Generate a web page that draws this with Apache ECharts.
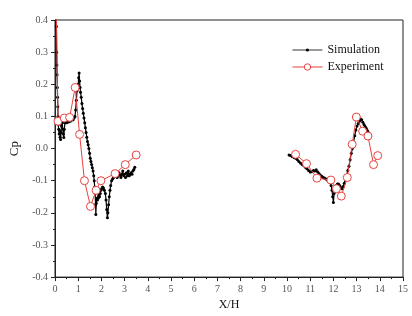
<!DOCTYPE html>
<html>
<head>
<meta charset="utf-8">
<script src="https://cdn.jsdelivr.net/npm/echarts@6/dist/echarts.min.js"></script>
<style>
  html, body { margin: 0; padding: 0; background: #fff; }
  #chart { width: 412px; height: 316px; }
</style>
</head>
<body>
<div id="chart"></div>
<script>
// simulation, upstream part [X/H, Cp]
var simLeft = [
    [0.03,0.55],[0.06,0.38],[0.07,0.30],[0.08,0.26],[0.09,0.23],[0.10,0.19],[0.11,0.16],[0.12,0.13],
    [0.13,0.10],[0.14,0.075],[0.16,0.06],[0.18,0.045],[0.20,0.055],[0.22,0.035],[0.24,0.028],[0.26,0.05],
    [0.28,0.07],[0.30,0.085],[0.32,0.08],[0.34,0.06],[0.36,0.045],[0.38,0.034],[0.40,0.06],[0.43,0.08],
    [0.46,0.085],[0.50,0.08],[0.54,0.085],[0.58,0.083],[0.62,0.086],[0.66,0.085],[0.70,0.088],[0.74,0.09],
    [0.78,0.09],[0.82,0.095],[0.86,0.10],[0.89,0.12],[0.92,0.15],[0.95,0.18],[0.98,0.19],[1.00,0.20],
    [1.02,0.22],[1.04,0.235],[1.06,0.21],[1.08,0.19],[1.10,0.175],[1.13,0.16],[1.16,0.14],[1.19,0.125],
    [1.22,0.11],[1.25,0.095],[1.28,0.08],[1.31,0.065],[1.34,0.05],[1.37,0.035],[1.40,0.022],[1.43,0.012],
    [1.46,0.0],[1.49,-0.015],[1.52,-0.03],[1.55,-0.04],[1.58,-0.05],[1.61,-0.06],[1.64,-0.07],[1.67,-0.085],
    [1.69,-0.10],[1.71,-0.12],[1.73,-0.14],[1.75,-0.175],[1.76,-0.205],[1.78,-0.17],[1.80,-0.155],[1.83,-0.16],
    [1.86,-0.155],[1.89,-0.145],[1.92,-0.15],[1.95,-0.14],[1.98,-0.13],[2.01,-0.125],[2.05,-0.12],[2.09,-0.123],
    [2.13,-0.13],[2.17,-0.14],[2.20,-0.16],[2.23,-0.19],[2.26,-0.215],[2.28,-0.2],[2.31,-0.175],[2.34,-0.15],
    [2.37,-0.13],[2.40,-0.115],[2.44,-0.1],[2.48,-0.095],[2.52,-0.09],[2.56,-0.088],[2.60,-0.085],[2.64,-0.082],
    [2.68,-0.09],[2.72,-0.085],[2.76,-0.075],[2.80,-0.082],[2.84,-0.09],[2.88,-0.08],[2.92,-0.07],[2.96,-0.085],
    [3.00,-0.08],[3.04,-0.09],[3.08,-0.075],[3.12,-0.085],[3.16,-0.07],[3.20,-0.085],[3.24,-0.08],[3.28,-0.075],
    [3.32,-0.08],[3.36,-0.07],[3.40,-0.065],[3.44,-0.058]
];
// simulation, downstream part
var simRight = [
    [10.09,-0.02],[10.15,-0.022],[10.22,-0.025],[10.30,-0.028],[10.37,-0.03],[10.44,-0.034],[10.51,-0.04],
    [10.58,-0.045],[10.65,-0.05],[10.72,-0.053],[10.79,-0.058],[10.86,-0.063],[10.93,-0.068],[11.00,-0.073],
    [11.07,-0.072],[11.14,-0.068],[11.20,-0.07],[11.26,-0.066],[11.32,-0.072],[11.38,-0.078],[11.44,-0.083],
    [11.50,-0.086],[11.56,-0.09],[11.62,-0.092],[11.68,-0.095],[11.74,-0.098],[11.80,-0.10],[11.85,-0.105],
    [11.90,-0.115],[11.94,-0.13],[11.97,-0.15],[12.00,-0.168],[12.03,-0.14],[12.07,-0.12],[12.12,-0.115],
    [12.17,-0.11],[12.22,-0.11],[12.27,-0.115],[12.32,-0.122],[12.37,-0.125],[12.42,-0.118],[12.47,-0.108],
    [12.52,-0.10],[12.57,-0.085],[12.62,-0.068],[12.67,-0.055],[12.72,-0.035],[12.77,-0.015],[12.82,0.0],
    [12.87,0.02],[12.92,0.04],[12.97,0.058],[13.02,0.07],[13.07,0.078],[13.12,0.085],[13.17,0.092],
    [13.22,0.09],[13.27,0.082],[13.32,0.075],[13.37,0.069],[13.42,0.062],[13.47,0.055],[13.52,0.049],
    [13.56,0.044],[13.59,0.04]
];
// experiment
var expLeft = [
    [0.02,0.6],[0.13,0.085],[0.40,0.095],[0.63,0.097],[0.87,0.19],[1.06,0.044],[1.27,-0.10],
    [1.53,-0.18],[1.77,-0.13],[1.98,-0.10],[2.59,-0.078],[3.03,-0.05],[3.50,-0.02]
];
var expRight = [
    [10.37,-0.018],[10.84,-0.047],[11.29,-0.092],[11.89,-0.098],[12.13,-0.125],[12.34,-0.148],
    [12.60,-0.09],[12.81,0.013],[12.99,0.098],[13.26,0.054],[13.49,0.039],[13.73,-0.05],[13.91,-0.022]
];

var serif = 'Liberation Serif';
var red = '#e8413f';

function simSeries(data) {
    return {
        name: 'Simulation',
        type: 'line',
        data: data,
        symbol: 'circle',
        symbolSize: 3,
        itemStyle: { color: '#000' },
        lineStyle: { color: '#000', width: 1.2 },
        clip: true,
        z: 2
    };
}
function expSeries(data) {
    return {
        name: 'Experiment',
        type: 'line',
        data: data,
        symbol: 'circle',
        symbolSize: 8,
        itemStyle: { color: '#fff', borderColor: red, borderWidth: 1 },
        lineStyle: { color: red, width: 1 },
        clip: true,
        z: 3
    };
}

var legendText = { fontFamily: serif, fontSize: 12, color: '#111' };

var option = {
    animation: false,
    backgroundColor: '#fff',
    grid: {
        left: 53, right: 9, top: 20, bottom: 34,
        show: true, borderColor: '#222', borderWidth: 1
    },
    legend: [{
        data: ['Simulation'],
        left: 287,
        top: 39,
        itemWidth: 30,
        itemHeight: 4,
        lineStyle: { width: 0.8 },
        textStyle: legendText
    }, {
        data: ['Experiment'],
        left: 287,
        top: 56,
        itemWidth: 30,
        itemHeight: 8,
        itemStyle: { borderWidth: 1 },
        lineStyle: { width: 1 },
        textStyle: legendText
    }],
    xAxis: {
        type: 'value',
        min: 0, max: 15, interval: 1,
        name: 'X/H',
        nameLocation: 'middle',
        nameGap: 17,
        nameTextStyle: { fontFamily: serif, fontSize: 12, color: '#111' },
        axisLine: { onZero: false, lineStyle: { color: '#222' } },
        axisTick: { length: 4, lineStyle: { color: '#222' } },
        minorTick: { show: true, splitNumber: 2, length: 2, lineStyle: { color: '#222' } },
        axisLabel: { fontFamily: serif, fontSize: 10, color: '#555', margin: 7 },
        splitLine: { show: false }
    },
    yAxis: {
        type: 'value',
        min: -0.4, max: 0.4, interval: 0.1,
        name: 'Cp',
        nameLocation: 'middle',
        nameGap: 34,
        nameRotate: 90,
        nameTextStyle: { fontFamily: serif, fontSize: 13, color: '#111' },
        axisLine: { onZero: false, lineStyle: { color: '#222' } },
        axisTick: { length: 4, lineStyle: { color: '#222' } },
        minorTick: { show: true, splitNumber: 2, length: 2, lineStyle: { color: '#222' } },
        axisLabel: {
            fontFamily: serif, fontSize: 10, color: '#555', margin: 7,
            formatter: function (v) { return v.toFixed(1); }
        },
        splitLine: { show: false }
    },
    series: [
        simSeries(simLeft),
        simSeries(simRight),
        expSeries(expLeft),
        expSeries(expRight)
    ]
};

var chart = echarts.init(document.getElementById('chart'));
chart.setOption(option);
</script>
</body>
</html>
